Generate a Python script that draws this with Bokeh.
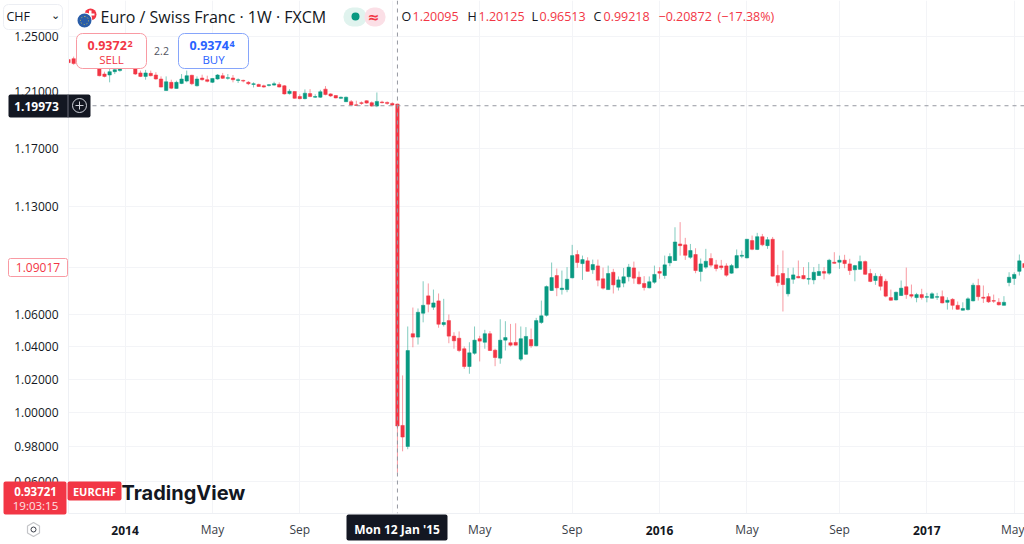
from bokeh.plotting import figure
from bokeh.embed import file_html
from bokeh.resources import INLINE
from bokeh.models import (ColumnDataSource, FixedTicker, NumeralTickFormatter, Range1d, Label,
                          BoxAnnotation, Span, PolyAnnotation)

first_week = -64  # weeks relative to Mon 12 Jan 2015

dir_pre = list("DDDUDDDD" "UUUU" "DDD" "U" "DDD" "U" "D" "UUU" "D" "U" "DD" "UU" "D" "U" "D" "U" "DD" "U" "DD" "UU"
               "DD" "U" "DD" "U" "D" "UU" "DDD" "UU" "DDDDD" "U" "DDD")
dir_post = list("DDUDUUDUDU" "DDDDUUDUDD" "UUDDUUDUUU" "UDUUUDUDUD" "DUDUUUDDDU" "UDUUUDDUDU"
                "UDDDDUUUUD" "UDUDDDUUDD" "UUUDUDUDDU" "UDDUDDDUUD" "DUDUUUDUDD" "UUUDDDDDUU" "UUD")

highs_pre = [1.2344,1.2352,1.2340,1.2345,1.2330,1.2320,1.2286,1.2242,1.2262,1.2267,1.2272,1.2290,1.2300,1.2286,1.2250,1.2255,
             1.2250,1.2238,1.2208,1.2208,1.2184,1.2177,1.2225,1.2250,1.2220,1.2208,1.2220,1.2213,1.2194,1.2225,1.2233,1.2225,
             1.2218,1.2194,1.2184,1.2174,1.2165,1.2155,1.2148,1.2152,1.2169,1.2165,1.2145,1.2116,1.2101,1.2079,1.2114,1.2116,
             1.2079,1.2111,1.2138,1.2087,1.2072,1.2063,1.2063,1.2038,1.2033,1.2028,1.2036,1.2028,1.2092,1.2033,1.2028,1.2021]
tops_pre = [1.2330,1.2337,1.2325,1.2330,1.2320,1.2300,1.2262,1.2225,1.2242,1.2257,1.2262,1.2280,1.2290,1.2262,1.2233,1.2233,
            1.2230,1.2218,1.2189,1.2169,1.2165,1.2165,1.2189,1.2213,1.2216,1.2189,1.2196,1.2184,1.2193,1.2218,1.2213,1.2199,
            1.2196,1.2184,1.2179,1.2165,1.2155,1.2150,1.2140,1.2148,1.2155,1.2150,1.2140,1.2101,1.2099,1.2063,1.2087,1.2084,
            1.2063,1.2097,1.2116,1.2082,1.2070,1.2058,1.2058,1.2026,1.2004,1.2019,1.2033,1.2019,1.2028,1.2024,1.2021,1.2014]
bottoms_pre = [1.2308,1.2301,1.2300,1.2310,1.2290,1.2275,1.2213,1.2208,1.2218,1.2242,1.2250,1.2270,1.2275,1.2225,1.2208,1.2208,
               1.2213,1.2189,1.2131,1.2106,1.2123,1.2121,1.2157,1.2174,1.2155,1.2140,1.2184,1.2172,1.2165,1.2189,1.2194,1.2194,
               1.2184,1.2179,1.2174,1.2155,1.2150,1.2135,1.2131,1.2143,1.2145,1.2131,1.2082,1.2084,1.2050,1.2048,1.2048,1.2063,
               1.2058,1.2058,1.2077,1.2067,1.2053,1.2050,1.2026,1.2002,1.1999,1.2014,1.2016,1.1995,1.1995,1.2019,1.2014,1.2002]
lows_pre = [1.2301,1.2293,1.2290,1.2295,1.2280,1.2265,1.2208,1.2201,1.2165,1.2225,1.2242,1.2265,1.2268,1.2218,1.2203,1.2184,
            1.2208,1.2184,1.2128,1.2104,1.2116,1.2120,1.2152,1.2165,1.2145,1.2135,1.2177,1.2165,1.2160,1.2184,1.2189,1.2184,
            1.2165,1.2160,1.2165,1.2145,1.2128,1.2133,1.2126,1.2135,1.2140,1.2128,1.2077,1.2077,1.2048,1.2043,1.2043,1.2058,
            1.2053,1.2053,1.2072,1.2060,1.2050,1.2046,1.2024,1.1997,1.1997,1.2004,1.2012,1.1990,1.1987,1.2014,1.2004,1.1997]

highs_post = [1.20125,1.0224,1.0525,1.0644,1.0638,1.0811,1.0797,1.0758,1.0733,1.0699,1.0600,1.0489,1.0494,1.0401,1.0427,1.0525,
              1.0467,1.0504,1.0496,1.0387,1.0570,1.0558,1.0541,1.0545,1.0525,1.0521,1.0512,1.0579,1.0688,1.0784,1.0932,1.0893,
              1.0880,1.0902,1.1047,1.1012,1.0977,1.0966,1.0951,1.0951,1.0899,1.0912,1.0891,1.0842,1.0897,1.0923,1.0938,1.0874,
              1.0844,1.0842,1.0912,1.0902,1.0977,1.0992,1.1163,1.1197,1.1093,1.1053,1.1025,1.0958,1.1021,1.0992,1.0949,1.0949,
              1.0927,1.0923,1.1017,1.1010,1.1086,1.1108,1.1126,1.1119,1.1099,1.1099,1.0917,1.1010,1.0897,1.0899,1.0945,1.0902,
              1.0934,1.0902,1.0923,1.0902,1.0956,1.0999,1.0977,1.0982,1.0956,1.0917,1.0977,1.0945,1.0891,1.0863,1.0859,1.0827,
              1.0758,1.0745,1.0816,1.0899,1.0790,1.0737,1.0763,1.0737,1.0741,1.0737,1.0752,1.0709,1.0703,1.0682,1.0677,1.0709,
              1.0801,1.0827,1.0784,1.0735,1.0726,1.0703,1.0716,1.0869,1.0869,1.0984,1.0945]
tops_post = [1.20095,0.9925,1.0376,1.0480,1.0614,1.0658,1.0718,1.0673,1.0686,1.0550,1.0562,1.0465,1.0452,1.0387,1.0362,1.0440,
             1.0449,1.0480,1.0480,1.0378,1.0440,1.0456,1.0424,1.0426,1.0449,1.0463,1.0444,1.0562,1.0592,1.0777,1.0835,1.0848,
             1.0767,1.0824,1.0977,1.0984,1.0951,1.0943,1.0919,1.0910,1.0827,1.0861,1.0869,1.0820,1.0840,1.0902,1.0897,1.0837,
             1.0797,1.0808,1.0855,1.0874,1.0917,1.0971,1.1066,1.1053,1.1047,1.1010,1.0984,1.0923,1.0940,1.0958,1.0917,1.0910,
             1.0910,1.0912,1.0977,1.0979,1.1084,1.1075,1.1101,1.1101,1.1081,1.1084,1.0848,1.0861,1.0829,1.0852,1.0842,1.0848,
             1.0829,1.0869,1.0874,1.0874,1.0947,1.0934,1.0947,1.0947,1.0923,1.0912,1.0938,1.0938,1.0861,1.0844,1.0842,1.0811,
             1.0707,1.0741,1.0767,1.0776,1.0726,1.0726,1.0726,1.0713,1.0731,1.0713,1.0713,1.0690,1.0696,1.0658,1.0638,1.0699,
             1.0786,1.0784,1.0709,1.0713,1.0688,1.0677,1.0677,1.0837,1.0855,1.0943,1.0925]
bottoms_post = [0.99218,0.9857,0.9802,1.0459,1.0459,1.0608,1.0665,1.0646,1.0539,1.0537,1.0465,1.0436,1.0376,1.0278,1.0278,1.0359,
                1.0434,1.0427,1.0376,1.0333,1.0329,1.0440,1.0409,1.0409,1.0323,1.0353,1.0405,1.0405,1.0550,1.0595,1.0752,1.0769,
                1.0758,1.0758,1.0833,1.0932,1.0925,1.0875,1.0885,1.0818,1.0767,1.0758,1.0788,1.0773,1.0799,1.0840,1.0831,1.0795,
                1.0771,1.0769,1.0805,1.0863,1.0848,1.0930,1.0945,1.1042,1.0979,1.0966,1.0880,1.0874,1.0902,1.0915,1.0893,1.0899,
                1.0850,1.0863,1.0897,1.0973,1.0962,1.1018,1.1017,1.1047,1.1042,1.0844,1.0803,1.0790,1.0731,1.0824,1.0833,1.0827,
                1.0824,1.0820,1.0848,1.0863,1.0863,1.0927,1.0934,1.0925,1.0880,1.0885,1.0888,1.0856,1.0810,1.0816,1.0779,1.0716,
                1.0690,1.0692,1.0720,1.0726,1.0716,1.0707,1.0707,1.0709,1.0703,1.0709,1.0673,1.0677,1.0658,1.0633,1.0627,1.0631,
                1.0686,1.0713,1.0703,1.0680,1.0684,1.0661,1.0658,1.0803,1.0829,1.0875,1.0899]
lows_post = [0.96513,0.9774,0.9786,1.0396,1.0413,1.0551,1.0614,1.0629,1.0517,1.0525,1.0421,1.0387,1.0366,1.0264,1.0234,1.0350,
             1.0309,1.0387,1.0373,1.0280,1.0295,1.0376,1.0401,1.0407,1.0311,1.0350,1.0393,1.0402,1.0541,1.0587,1.0749,1.0716,
             1.0726,1.0741,1.0830,1.0898,1.0820,1.0874,1.0859,1.0779,1.0758,1.0756,1.0733,1.0752,1.0773,1.0810,1.0795,1.0790,
             1.0752,1.0766,1.0795,1.0827,1.0827,1.0908,1.0942,1.0977,1.0949,1.0956,1.0863,1.0810,1.0891,1.0902,1.0875,1.0885,
             1.0840,1.0859,1.0894,1.0960,1.0959,1.1012,1.1013,1.1038,1.1021,1.0841,1.0779,1.0619,1.0714,1.0795,1.0830,1.0824,
             1.0790,1.0792,1.0845,1.0823,1.0852,1.0924,1.0891,1.0895,1.0852,1.0811,1.0885,1.0852,1.0805,1.0788,1.0752,1.0709,
             1.0687,1.0689,1.0717,1.0699,1.0703,1.0677,1.0694,1.0677,1.0699,1.0692,1.0670,1.0631,1.0631,1.0630,1.0625,1.0625,
             1.0683,1.0688,1.0673,1.0673,1.0673,1.0657,1.0657,1.0779,1.0788,1.0848,1.0880]

price_ticks = [1.25, 1.21, 1.17, 1.13, 1.09, 1.06, 1.04, 1.02, 1.00, 0.98, 0.96]
week_ticks = [-53, -36, -19, -1, 16, 34, 51, 68, 86, 103, 120]
week_labels = ["", "May", "Sep", "", "May", "Sep", "", "May", "Sep", "", "May"]
year_weeks = [-53, 51, 103]
year_labels = ["2014", "2016", "2017"]
crosshair_price = 1.19973
crosshair_week = 0

RED = "#F23645"
GREEN = "#089981"
INK = "#131722"
GRID = "#f3f4f7"
FONT = "Open Sans"

directions = dir_pre + dir_post
highs = highs_pre + highs_post
tops = tops_pre + tops_post
bottoms = bottoms_pre + bottoms_post
lows = lows_pre + lows_post
weeks = list(range(first_week, first_week + len(highs)))
colors = [RED if d == "D" else GREEN for d in directions]

src = ColumnDataSource(dict(x=weeks, h=highs, l=lows, t=tops, b=bottoms, c=colors))

p = figure(width=1024, height=544, output_backend="svg", toolbar_location=None, y_axis_type="log",
           x_range=Range1d(-64.0, 122.0), y_range=Range1d(0.9420, 1.2770),
           min_border_left=68, min_border_right=0, min_border_top=0, min_border_bottom=31,
           outline_line_color=None, background_fill_color="white")
p.styles = {"position": "absolute", "left": "0px", "top": "0px"}

p.yaxis.ticker = FixedTicker(ticks=price_ticks)
p.yaxis.formatter = NumeralTickFormatter(format="0.00000")
p.yaxis.major_tick_line_color = None
p.yaxis.minor_tick_line_color = None
p.yaxis.major_tick_out = 0
p.yaxis.minor_tick_out = 0
p.yaxis.axis_line_color = "#eef0f4"
p.yaxis.major_label_standoff = 10
p.yaxis.major_label_text_font = FONT
p.yaxis.major_label_text_font_size = "12px"
p.yaxis.major_label_text_color = INK

p.xaxis.ticker = FixedTicker(ticks=week_ticks)
p.xaxis.major_label_overrides = dict(zip(week_ticks, week_labels))
p.xaxis.major_tick_line_color = None
p.xaxis.minor_tick_line_color = None
p.xaxis.major_tick_out = 0
p.xaxis.minor_tick_out = 0
p.xaxis.axis_line_color = "#eef0f4"
p.xaxis.major_label_standoff = 7
p.xaxis.major_label_text_font = FONT
p.xaxis.major_label_text_font_size = "12px"
p.xaxis.major_label_text_color = "#3a3e48"

p.xgrid.ticker = FixedTicker(ticks=week_ticks)
p.ygrid.ticker = FixedTicker(ticks=price_ticks)
p.xgrid.grid_line_color = GRID
p.ygrid.grid_line_color = GRID
p.ygrid.minor_grid_line_color = None

p.segment("x", "h", "x", "l", source=src, line_color="c", line_width=1, line_alpha=0.5)
p.vbar("x", width=0.66, top="t", bottom="b", source=src, fill_color="c", line_color="c", line_width=0.5)

p.add_layout(Span(location=crosshair_price, dimension="width", line_color="#9598a1", line_dash="4 4", line_width=1))
p.add_layout(Span(location=crosshair_week, dimension="height", line_color="#9598a1", line_dash="4 4", line_width=1))

# transparent sheet over the whole window for the interface labels that sit across the axes
week_px = 956 / 186
ov = figure(width=1024, height=544, output_backend="svg", toolbar_location=None,
            x_range=Range1d(-64.0 - 68 / week_px, 122.0), y_range=Range1d(0, 544),
            x_axis_location=None, y_axis_location=None, min_border=0,
            outline_line_color=None, background_fill_color=None, border_fill_color=None)
ov.grid.visible = False
ov.styles = {"position": "absolute", "left": "0px", "top": "0px"}


def box(x0, y0, x1, y1, fill=None, line=None, radius=0, alpha=1.0, dash="solid", width=1):
    b = BoxAnnotation(left=x0, right=x1, top=y0, bottom=y1,
                      left_units="canvas", right_units="canvas", top_units="canvas", bottom_units="canvas",
                      fill_color=fill, fill_alpha=alpha if fill else 0, line_color=line, line_alpha=1 if line else 0,
                      line_width=width, line_dash=dash, border_radius=radius, editable=False)
    ov.add_layout(b)


def text(x, y, s, color=INK, size=12, align="left", style="normal", font=FONT):
    ov.add_layout(Label(x=x, y=y, x_units="canvas", y_units="canvas", text=s, text_color=color,
                        text_font_size=f"{size}px", text_align=align, text_baseline="middle",
                        text_font_style=style, text_font=font))


# currency selector
box(0, 0, 68, 31, fill="white")
box(3, 4, 62, 29, fill="white", line="#eceef3", radius=5)
text(6, 16, "CHF", size=12.5)
text(55, 15, "⌄", size=11, align="center", font="DejaVu Sans")

# symbol icon and title
box(84, 8, 96, 20, fill=RED, radius=6)
box(88.5, 10, 91, 18, fill="white")
box(86, 13, 94, 15, fill="white")
box(76, 12, 92, 28, fill="white", radius=8)
box(77, 13, 91, 27, fill="#2a5da8", radius=7)
box(80, 16, 88, 24, line="#d8c548", radius=4, dash="1 2")
text(100, 16, "Euro / Swiss Franc · 1W · FXCM", size=16)

# status pill
box(343, 7, 366, 26, fill="#e0f3ee", radius=9)
box(364, 7, 385, 26, fill="#fbdfe6", radius=9)
box(351, 12, 359, 20, fill=GREEN, radius=4)
text(373, 16, "≈", color=RED, size=14, align="center", style="bold", font="DejaVu Sans")

# OHLC row
for x, s, c in [(401, "O", INK), (412, "1.20095", RED), (467, "H", INK), (478, "1.20125", RED),
                (531, "L", INK), (539, "0.96513", RED), (593, "C", INK), (603, "0.99218", RED),
                (658, "−0.20872", RED), (717, "(−17.38%)", RED)]:
    text(x, 16, s, color=c, size=12.5)

# sell and buy buttons
box(76, 33, 146, 68, fill="white", line="#f99aa3", radius=6)
text(87, 45, "0.9372", color=RED, size=12.5, style="bold")
text(127, 43, "2", color=RED, size=9, style="bold")
text(111, 59, "SELL", color=RED, size=11.5, align="center")
text(161, 50, "2.2", color="#50535e", size=10.5, align="center")
box(178, 33, 248, 68, fill="white", line="#86a5fb", radius=6)
text(189, 45, "0.9374", color="#2962ff", size=12.5, style="bold")
text(229, 43, "4", color="#2962ff", size=9, style="bold")
text(213, 59, "BUY", color="#2962ff", size=11.5, align="center")

# crosshair price label
box(8, 94, 90, 117, fill=INK, radius=2)
box(67, 94, 68, 117, fill="#6a6d78")
text(36, 106, "1.19973", color="white", size=12, align="center", style="bold")
box(72, 98, 86, 112, line="#d1d4dc", radius=7)
box(75, 104.5, 83, 105.5, fill="#d1d4dc")
box(78.5, 101, 79.5, 109, fill="#d1d4dc")

# last value label
box(8, 258, 67, 276, fill="white", line="#f99aa3", radius=2)
text(37.5, 267, "1.09017", color=RED, size=12, align="center")

# countdown and symbol labels
box(3, 481, 66, 514, fill=RED, radius=2)
text(35, 491, "0.93721", color="white", size=11.5, align="center", style="bold")
text(35, 505, "19:03:15", color="#fde3e6", size=11.5, align="center")
box(67, 481, 121, 500, fill=RED, radius=2)
text(94, 491, "EURCHF", color="white", size=11, align="center", style="bold")

# watermark
text(121, 492, "TradingView", size=20, style="bold", font="Inter")

# bottom strip
ov.add_layout(PolyAnnotation(xs=[27, 33, 39, 39, 33, 27], ys=[525.5, 522, 525.5, 532.5, 536, 532.5],
                             xs_units="canvas", ys_units="canvas", fill_alpha=0,
                             line_color="#3a3e48", line_width=1.2, editable=False))
box(30.5, 526.5, 35.5, 531.5, line="#3a3e48", radius=3)
for wk, yr in zip(year_weeks, year_labels):
    ov.add_layout(Label(x=wk, y=530, x_units="data", y_units="canvas", text=yr, text_color=INK,
                        text_font=FONT, text_font_size="12px", text_font_style="bold",
                        text_align="center", text_baseline="middle"))
box(346, 514, 447, 540, fill=INK, radius=2)
text(396.5, 529, "Mon 12 Jan '15", color="white", size=12, align="center", style="bold")

open("out.html", "w").write(file_html((p, ov), INLINE))
